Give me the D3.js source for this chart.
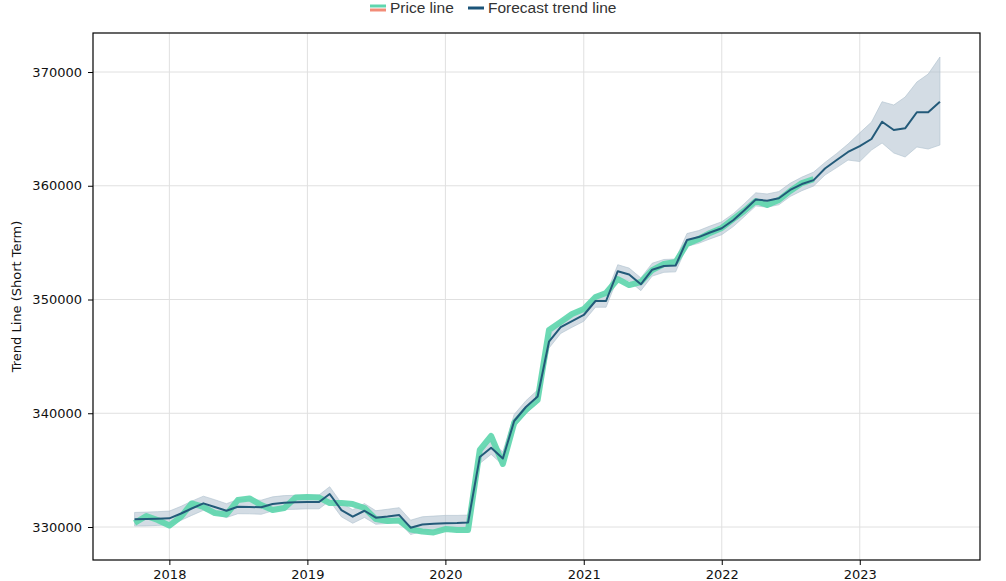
<!DOCTYPE html>
<html><head><meta charset="utf-8">
<script src="https://cdn.jsdelivr.net/npm/d3@7/dist/d3.min.js"></script>
<style>body{margin:0;background:#fff}svg{display:block}</style>
</head><body><svg id="c" width="1006" height="581"></svg>
<script>
// monthly dates from 2017-10 to 2023-08
const months = ["2017-10","2017-11","2017-12","2018-01","2018-02","2018-03","2018-04","2018-05","2018-06","2018-07","2018-08","2018-09","2018-10","2018-11","2018-12","2019-01","2019-02","2019-03","2019-04","2019-05","2019-06","2019-07","2019-08","2019-09","2019-10","2019-11","2019-12","2020-01","2020-02","2020-03","2020-04","2020-05","2020-06","2020-07","2020-08","2020-09","2020-10","2020-11","2020-12","2021-01","2021-02","2021-03","2021-04","2021-05","2021-06","2021-07","2021-08","2021-09","2021-10","2021-11","2021-12","2022-01","2022-02","2022-03","2022-04","2022-05","2022-06","2022-07","2022-08","2022-09","2022-10","2022-11","2022-12","2023-01","2023-02","2023-03","2023-04","2023-05","2023-06","2023-07","2023-08"];
const priceLine = [330350,330970,330620,330130,330920,332070,331760,331230,331100,332370,332510,331930,331490,331670,332590,332640,332590,332110,332110,332020,331670,330700,330530,330570,329780,329600,329520,329820,329740,329740,336770,338000,335540,339140,340290,341170,347320,348020,348730,349160,350220,350570,351800,351270,351540,352590,353120,353300,354880,355320,355850,356290,357080,357780,358660,358310,358750,359540,360240,360590];
const trendLine = [330680,330700,330730,330765,331190,331630,332080,331760,331430,331780,331760,331730,332020,332140,332170,332200,332200,332900,331490,330910,331430,330820,330920,331050,329940,330220,330280,330330,330350,330400,336150,336960,336020,339320,340550,341470,346290,347580,348110,348640,349870,349870,352490,352200,351340,352620,352950,352990,355230,355490,355890,356260,356990,357820,358790,358690,358900,359630,360150,360500,361520,362260,362970,363490,364110,365630,364900,365050,366460,366460,367390];
const trendUpper = [331280,331310,331350,331400,331820,332270,332710,332400,332050,332420,332380,332360,332650,332760,332790,332800,332820,333540,332100,331520,332060,331430,331560,331700,330600,330900,330960,331020,331020,331050,336750,337540,336600,339900,341100,342050,346850,348130,348670,349200,350420,350420,353060,352760,351900,353190,353520,353560,355800,356060,356460,356830,357560,358400,359380,359280,359490,360220,360760,361200,362050,362840,363670,364650,365600,367390,367100,367800,369120,369820,371320];
const trendLower = [330080,330100,330140,330180,330590,331020,331470,331150,330830,331170,331160,331120,331420,331540,331560,331600,331600,332300,330900,330330,330840,330240,330320,330420,329340,329620,329680,329730,329760,329810,335580,336390,335450,338760,339990,340900,345730,347020,347560,348090,349320,349320,351930,351640,350780,352060,352390,352430,354680,354940,355330,355700,356430,357270,358230,358120,358330,359060,359570,359980,360940,361600,362260,362130,363140,363760,362880,362530,363410,363230,363580];
const yTicks = [330000,340000,350000,360000,370000];
const xTickYears = [2018,2019,2020,2021,2022,2023];
const legendLabels = ["Price line","Forecast trend line"];

const parse = d3.timeParse("%Y-%m");
const dates = months.map(parse);
const svg = d3.select("#c");
const L = 93, R = 980, T = 33, B = 560;
const x = d3.scaleTime().domain([new Date(2017,5,13), new Date(2023,10,15)]).range([L, R]);
const y = d3.scaleLinear().domain([327100, 373430]).range([B, T]);
const FONT = "'DejaVu Sans', 'Bitstream Vera Sans', sans-serif";

// grid
const g = svg.append("g");
g.selectAll(".gy").data(yTicks).join("line")
  .attr("x1", L).attr("x2", R).attr("y1", d => y(d)).attr("y2", d => y(d))
  .attr("stroke", "#e0e0e0").attr("stroke-width", 1);
g.selectAll(".gx").data(xTickYears).join("line")
  .attr("x1", d => x(new Date(d,0,1))).attr("x2", d => x(new Date(d,0,1)))
  .attr("y1", T).attr("y2", B).attr("stroke", "#e0e0e0").attr("stroke-width", 1);

// band
const bandData = dates.map((d,i) => ({d, hi: trendUpper[i], lo: trendLower[i]}));
svg.append("path").datum(bandData)
  .attr("d", d3.area().x(p => x(p.d)).y0(p => y(p.lo)).y1(p => y(p.hi)))
  .attr("fill", "#aebfcd").attr("fill-opacity", 0.55)
  .attr("stroke", "#aebfcd").attr("stroke-opacity", 0.6).attr("stroke-width", 1);

// price line
const priceData = priceLine.map((v,i) => ({d: dates[i], v}));
svg.append("path").datum(priceData)
  .attr("d", d3.line().x(p => x(p.d)).y(p => y(p.v)))
  .attr("fill", "none").attr("stroke", "#5fd6ae").attr("stroke-width", 6)
  .attr("stroke-opacity", 0.92).attr("stroke-linejoin", "round");

// trend line
const trendData = trendLine.map((v,i) => ({d: dates[i], v}));
svg.append("path").datum(trendData)
  .attr("d", d3.line().x(p => x(p.d)).y(p => y(p.v)))
  .attr("fill", "none").attr("stroke", "#235a79").attr("stroke-width", 2)
  .attr("stroke-linejoin", "round");

// axes
const yAxis = d3.axisLeft(y).tickValues(yTicks).tickFormat(d3.format("d")).tickSize(5).tickPadding(6);
const xAxis = d3.axisBottom(x).tickValues(xTickYears.map(v => new Date(v,0,1))).tickFormat(d3.timeFormat("%Y")).tickSize(5).tickPadding(5);
const ya = svg.append("g").attr("transform", `translate(${L},0)`).call(yAxis);
const xa = svg.append("g").attr("transform", `translate(0,${B})`).call(xAxis);
[ya, xa].forEach(a => {
  a.select(".domain").remove();
  a.selectAll("text").attr("font-family", FONT).attr("font-size", 13).attr("fill", "#111");
  a.selectAll("line").attr("stroke", "#000");
});
svg.append("rect").attr("x", L).attr("y", T).attr("width", R - L).attr("height", B - T)
  .attr("fill", "none").attr("stroke", "#000").attr("stroke-width", 1.2);

svg.append("text").attr("transform", `translate(21,${(T+B)/2}) rotate(-90)`)
  .attr("text-anchor", "middle").attr("font-family", FONT).attr("font-size", 13)
  .attr("fill", "#111").text("Trend Line (Short Term)");

// legend
const lg = svg.append("g").attr("font-family", "'Liberation Sans', Arial, sans-serif").attr("font-size", 15.5).attr("fill", "#333");
lg.append("line").attr("x1", 370).attr("x2", 386).attr("y1", 6).attr("y2", 6).attr("stroke", "#5fd6ae").attr("stroke-width", 3);
lg.append("line").attr("x1", 370).attr("x2", 386).attr("y1", 10).attr("y2", 10).attr("stroke", "#f28c78").attr("stroke-width", 3);
lg.append("text").attr("x", 390).attr("y", 13).text(legendLabels[0]);
lg.append("line").attr("x1", 468).attr("x2", 484).attr("y1", 8).attr("y2", 8).attr("stroke", "#1b5479").attr("stroke-width", 3);
lg.append("text").attr("x", 488).attr("y", 13).text(legendLabels[1]);
</script></body></html>
